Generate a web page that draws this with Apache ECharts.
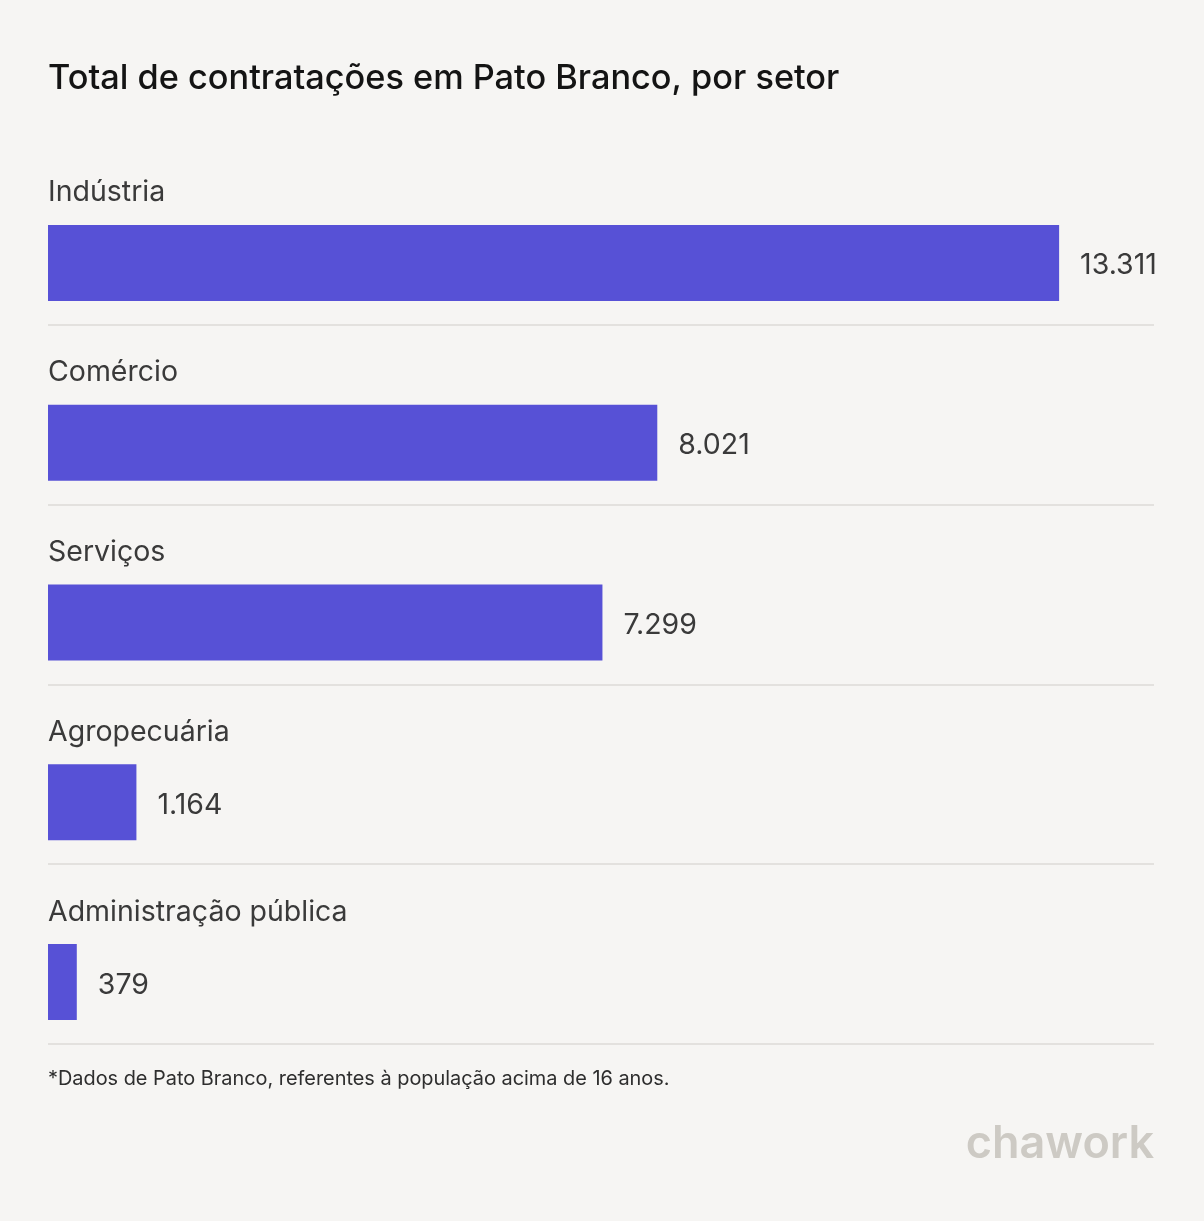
<!DOCTYPE html>
<html>
<head>
<meta charset="utf-8">
<script src="https://cdn.jsdelivr.net/npm/echarts@6/dist/echarts.min.js"></script>
<style>
html,body{margin:0;padding:0;background:#f6f5f3;}
#chart{width:1204px;height:1221px;}
</style>
</head>
<body>
<div id="chart"></div>
<script>
const categories = ['Indústria', 'Comércio', 'Serviços', 'Agropecuária', 'Administração pública'];
const values = [13311, 8021, 7299, 1164, 379];
const titleText = 'Total de contratações em Pato Branco, por setor';
const footnote = '*Dados de Pato Branco, referentes à população acima de 16 anos.';

const BG = '#f6f5f3';
const LINE = '#e3e1de';
const FONT = 'Inter, "Noto Sans", sans-serif';

const chart = echarts.init(document.getElementById('chart'), null, {renderer: 'canvas'});
chart.setOption({
  backgroundColor: BG,
  animation: false,
  title: {
    text: titleText,
    left: 48,
    top: 62,
    padding: 0,
    textStyle: {fontFamily: FONT, fontSize: 34.3, fontWeight: 500, color: '#141414'}
  },
  grid: {left: 48, right: 50, top: 145, height: 899, containLabel: false},
  xAxis: {
    type: 'value', min: 0, max: 14560,
    show: false, splitLine: {show: false}
  },
  yAxis: {
    type: 'category', data: categories, inverse: true,
    axisLine: {show: false}, axisTick: {show: false},
    axisLabel: {show: false},
    splitLine: {show: true, lineStyle: {color: [BG, LINE, LINE, LINE, LINE, LINE], width: 2}}
  },
  series: [
    {
      type: 'bar', data: categories.map(() => 0), barWidth: 76, barGap: '-26.3%',
      itemStyle: {color: 'rgba(0,0,0,0)'}, silent: true,
      label: {
        show: true, position: 'right', distance: 0, offset: [0, -14],
        formatter: p => p.name,
        fontFamily: FONT, fontSize: 28.5, color: '#3a3a3a'
      }
    },
    {
      type: 'bar', data: values, barWidth: 76,
      itemStyle: {color: '#5751d6'},
      label: {
        show: true, position: 'right', distance: 21, offset: [0, 3],
        formatter: p => p.value.toLocaleString('pt-BR'),
        fontFamily: FONT, fontSize: 28.5, color: '#3a3a3a'
      }
    }
  ],
  graphic: [
    {type: 'text', left: 48, top: 1069, style: {text: footnote, font: '19.9px ' + FONT, fill: '#2e2e2e'}},
    {type: 'text', right: 50, top: 1122, style: {text: 'chawork', font: '600 45px ' + FONT, fill: '#cdcac4'}}
  ]
});
</script>
</body>
</html>
